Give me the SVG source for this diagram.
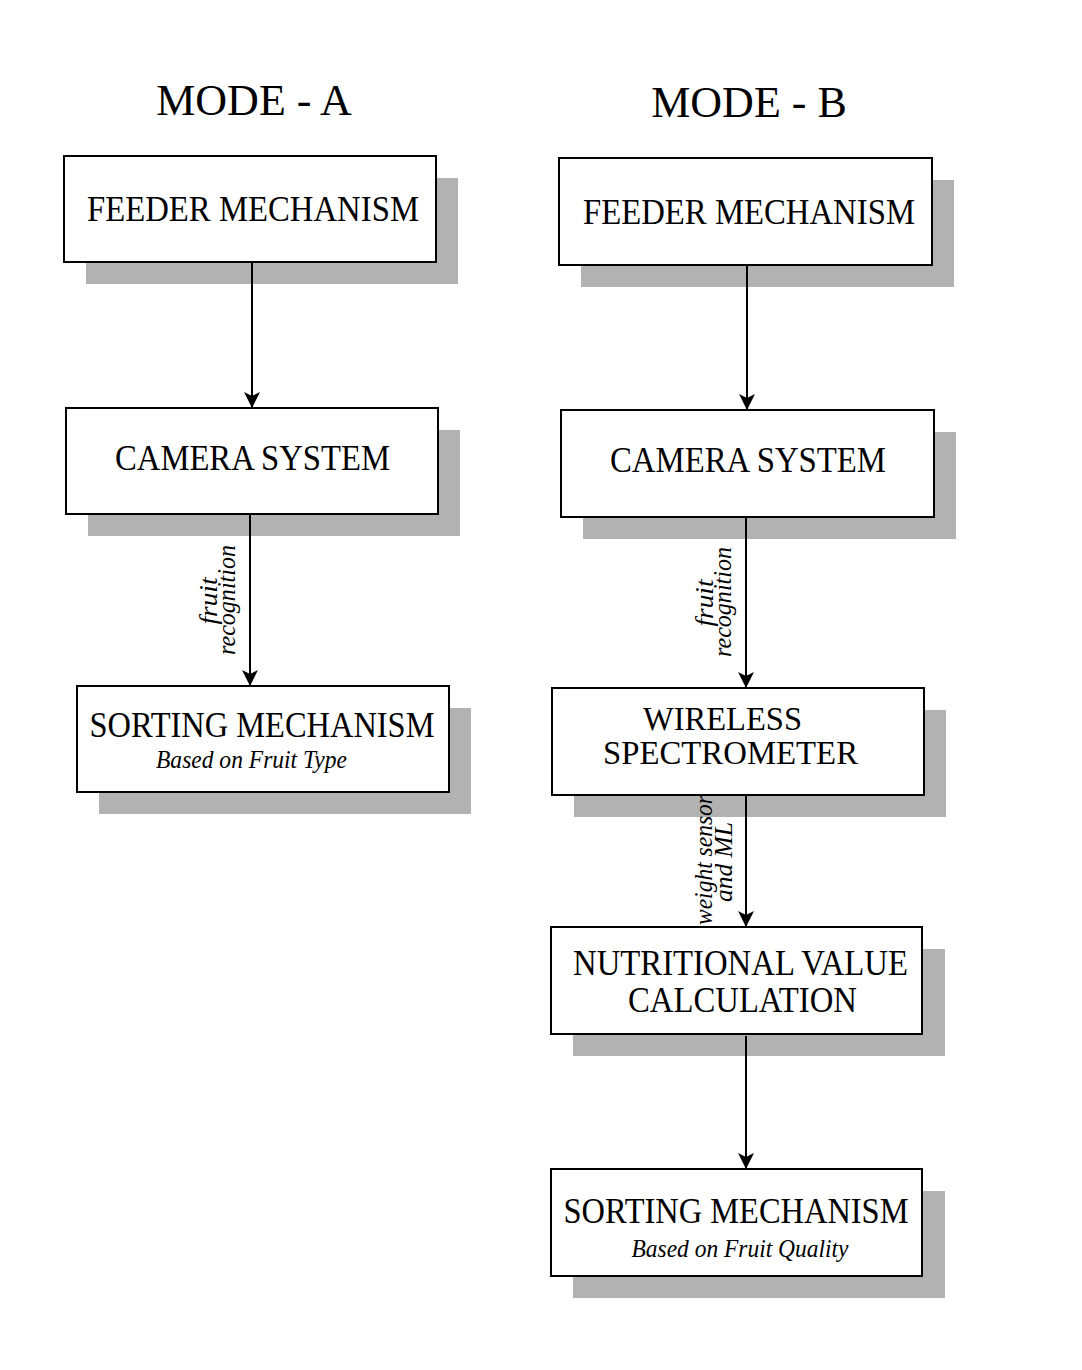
<svg xmlns="http://www.w3.org/2000/svg" width="1082" height="1370" viewBox="0 0 1082 1370">
<defs>
<style>
.shadow{fill:#b2b2b2;stroke:none}
.box{fill:#ffffff;stroke:#000000;stroke-width:2}
.t{font-family:"Liberation Serif","Times New Roman",serif;font-size:36px;fill:#000;text-anchor:middle}
.t2{font-family:"Liberation Serif","Times New Roman",serif;font-size:34px;fill:#000;text-anchor:middle}
.title{font-family:"Liberation Serif","Times New Roman",serif;font-size:44px;fill:#000;text-anchor:middle}
.sub{font-family:"Liberation Serif","Times New Roman",serif;font-size:26px;font-style:italic;fill:#000;text-anchor:middle}
.lbl{font-family:"Liberation Serif","Times New Roman",serif;font-size:25px;font-style:italic;fill:#000;text-anchor:middle}
.conn{stroke:#000;stroke-width:2;fill:none;marker-end:url(#arr)}
</style>
<marker id="arr" markerUnits="userSpaceOnUse" markerWidth="16" markerHeight="18" refX="16" refY="8" orient="auto">
<path d="M0,0 L16,8 L0,16 L4,8 Z" fill="#000"/>
</marker>
</defs>
<rect width="1082" height="1370" fill="#ffffff"/>
<text class="title" x="254" y="115">MODE - A</text>
<text class="title" x="749" y="117">MODE - B</text>

<g id="shadows">
<rect class="shadow" x="86" y="178" width="372" height="106"/>
<rect class="shadow" x="88" y="430" width="372" height="106"/>
<rect class="shadow" x="99" y="708" width="372" height="106"/>
<rect class="shadow" x="581" y="180" width="373" height="107"/>
<rect class="shadow" x="583" y="432" width="373" height="107"/>
<rect class="shadow" x="574" y="710" width="372" height="107"/>
<rect class="shadow" x="573" y="949" width="372" height="107"/>
<rect class="shadow" x="573" y="1191" width="372" height="107"/>
</g>

<g id="connectors">
<line class="conn" x1="252" y1="262" x2="252" y2="408"/>
<line class="conn" x1="250" y1="514" x2="250" y2="686"/>
<line class="conn" x1="747" y1="265" x2="747" y2="410"/>
<line class="conn" x1="746" y1="517" x2="746" y2="688"/>
<line class="conn" x1="746" y1="795" x2="746" y2="927"/>
<line class="conn" x1="746" y1="1036" x2="746" y2="1169"/>
<g transform="translate(216.5,601) rotate(-90)"><text class="lbl" x="0" y="0" textLength="47" lengthAdjust="spacingAndGlyphs">fruit</text></g>
<g transform="translate(235,600) rotate(-90)"><text class="lbl" x="0" y="0" textLength="110" lengthAdjust="spacingAndGlyphs">recognition</text></g>
<g transform="translate(713,603) rotate(-90)"><text class="lbl" x="0" y="0" textLength="47" lengthAdjust="spacingAndGlyphs">fruit</text></g>
<g transform="translate(731,602) rotate(-90)"><text class="lbl" x="0" y="0" textLength="110" lengthAdjust="spacingAndGlyphs">recognition</text></g>
<g transform="translate(712,860) rotate(-90)"><text class="lbl" x="0" y="0" textLength="130" lengthAdjust="spacingAndGlyphs">weight sensor</text></g>
<g transform="translate(732,862) rotate(-90)"><text class="lbl" x="0" y="0" textLength="80" lengthAdjust="spacingAndGlyphs">and ML</text></g>
</g>

<g id="a-feeder">
<rect class="box" x="64" y="156" width="372" height="106"/>
<text class="t" x="253" y="221" textLength="332" lengthAdjust="spacingAndGlyphs">FEEDER MECHANISM</text>
</g>
<g id="a-camera">
<rect class="box" x="66" y="408" width="372" height="106"/>
<text class="t" x="252.5" y="470" textLength="275" lengthAdjust="spacingAndGlyphs">CAMERA SYSTEM</text>
</g>
<g id="a-sorting">
<rect class="box" x="77" y="686" width="372" height="106"/>
<text class="t" x="262" y="737" textLength="345" lengthAdjust="spacingAndGlyphs">SORTING MECHANISM</text>
<text class="sub" x="251.5" y="768" textLength="191" lengthAdjust="spacingAndGlyphs">Based on Fruit Type</text>
</g>

<g id="b-feeder">
<rect class="box" x="559" y="158" width="373" height="107"/>
<text class="t" x="749" y="224" textLength="332" lengthAdjust="spacingAndGlyphs">FEEDER MECHANISM</text>
</g>
<g id="b-camera">
<rect class="box" x="561" y="410" width="373" height="107"/>
<text class="t" x="748" y="472" textLength="276" lengthAdjust="spacingAndGlyphs">CAMERA SYSTEM</text>
</g>
<g id="b-spectrometer">
<rect class="box" x="552" y="688" width="372" height="107"/>
<text class="t2" x="722.5" y="729.5" textLength="159" lengthAdjust="spacingAndGlyphs">WIRELESS</text>
<text class="t2" x="730.5" y="764" textLength="255" lengthAdjust="spacingAndGlyphs">SPECTROMETER</text>
</g>
<g id="b-nutrition">
<rect class="box" x="551" y="927" width="371" height="107"/>
<text class="t" x="740.5" y="975" textLength="335" lengthAdjust="spacingAndGlyphs">NUTRITIONAL VALUE</text>
<text class="t" x="742.5" y="1012" textLength="229" lengthAdjust="spacingAndGlyphs">CALCULATION</text>
</g>
<g id="b-sorting">
<rect class="box" x="551" y="1169" width="371" height="107"/>
<text class="t" x="736" y="1223" textLength="345" lengthAdjust="spacingAndGlyphs">SORTING MECHANISM</text>
<text class="sub" x="740" y="1257" textLength="217" lengthAdjust="spacingAndGlyphs">Based on Fruit Quality</text>
</g>
</svg>
